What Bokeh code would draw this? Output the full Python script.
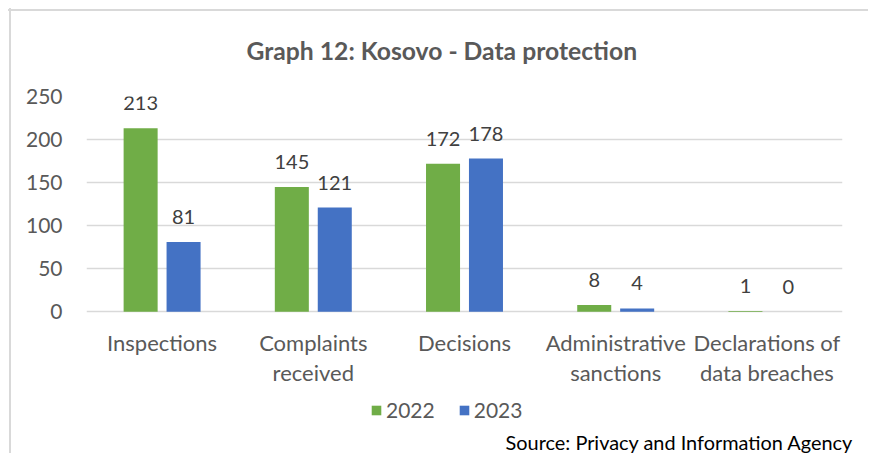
from bokeh.plotting import figure
from bokeh.models import Range1d, FixedTicker, Legend, LegendItem, ColumnDataSource, Title
from bokeh.core.properties import value
from bokeh.embed import file_html
from bokeh.resources import INLINE

# ---- data ----
categories = ["Inspections", "Complaints\nreceived", "Decisions",
              "Administrative\nsanctions", "Declarations of\ndata breaches"]
values_2022 = [213, 145, 172, 8, 1]
values_2023 = [81, 121, 178, 4, 0]
series_names = ["2022", "2023"]
y_ticks = [0, 50, 100, 150, 200, 250]
title_text = "Graph 12: Kosovo - Data protection"
source_text = "Source: Privacy and Information Agency"

GREEN = "#70AD47"
BLUE = "#4472C4"
GRID = "#d9d9d9"
TXT = "#595959"
FONT = "Lato"

n = len(categories)
centers = [i + 0.5 for i in range(n)]
offset = 0.142
bar_w = 0.225

p = figure(width=868, height=453, output_backend="svg", toolbar_location=None,
           x_range=Range1d(0, n), y_range=Range1d(-134.26, 250),
           min_border_left=86, min_border_right=26, min_border_top=96, min_border_bottom=25)
p.outline_line_color = None
p.background_fill_color = "white"
p.border_fill_alpha = 0
p.styles = {
    "background-color": "white",
    "background-image": "linear-gradient(#d9d9d9,#d9d9d9), linear-gradient(#d9d9d9,#d9d9d9)",
    "background-size": "100% 2px, 2px 100%",
    "background-position": "8px 9px, 9px 8px",
    "background-repeat": "no-repeat",
}

# title
p.title.text = title_text
p.title.align = "left"
p.title.offset = 160
p.title.text_font = FONT
p.title.text_font_style = "bold"
p.title.text_font_size = "24.7px"
p.title.text_color = TXT
p.title.standoff = 64

src22 = ColumnDataSource(dict(x=[c - offset for c in centers], top=values_2022,
                              label=[str(v) for v in values_2022]))
src23 = ColumnDataSource(dict(x=[c + offset for c in centers], top=values_2023,
                              label=[str(v) for v in values_2023]))

r22 = p.vbar(x="x", top="top", width=bar_w, source=src22, fill_color=GREEN, line_color=None)
r23 = p.vbar(x="x", top="top", width=bar_w, source=src23, fill_color=BLUE, line_color=None)

for s in (src22, src23):
    p.text(x="x", y="top", text="label", source=s, text_align="center",
           text_baseline="alphabetic", y_offset=-25, text_font=value(FONT),
           text_font_size="20px", text_color="#404040")

# axes
p.xaxis.fixed_location = 0
p.xaxis.ticker = FixedTicker(ticks=centers)
p.xaxis.major_label_overrides = {c: lab for c, lab in zip(centers, categories)}
p.xaxis.axis_line_color = None
p.xaxis.major_tick_line_color = None
p.xaxis.minor_tick_line_color = None
p.xaxis.major_tick_out = 0
p.xaxis.major_label_standoff = 17
p.xaxis.major_label_text_font = FONT
p.xaxis.major_label_text_font_size = "22px"
p.xaxis.major_label_text_color = TXT
p.xaxis.major_label_text_line_height = 1.12

p.yaxis.ticker = FixedTicker(ticks=y_ticks)
p.yaxis.axis_line_color = None
p.yaxis.major_tick_line_color = None
p.yaxis.minor_tick_line_color = None
p.yaxis.major_tick_out = 0
p.yaxis.major_label_standoff = 24
p.yaxis.major_label_text_font = FONT
p.yaxis.major_label_text_font_size = "21px"
p.yaxis.major_label_text_color = TXT

p.xgrid.grid_line_color = None
p.ygrid.grid_line_color = GRID
p.ygrid.grid_line_width = 1.5

legend = Legend(items=[LegendItem(label=series_names[0], renderers=[r22]),
                       LegendItem(label=series_names[1], renderers=[r23])],
                orientation="horizontal", location=(284, 5),
                glyph_width=12, glyph_height=12, label_standoff=4, spacing=23,
                padding=0, margin=0, border_line_color=None, background_fill_alpha=0,
                label_text_font=FONT, label_text_font_size="21px", label_text_color=TXT)
p.add_layout(legend, "center")

p.add_layout(Title(text=source_text, align="right", offset=-11, text_font=FONT,
                   text_font_style="normal", text_font_size="19.9px",
                   text_color="#000000", standoff=0), "below")

open("out.html", "w").write(file_html(p, INLINE))
